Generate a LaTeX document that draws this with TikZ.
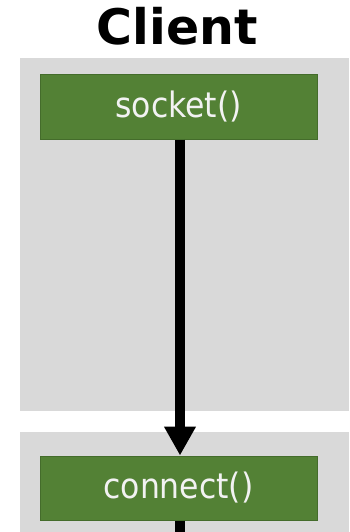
\documentclass[tikz,border=0pt]{standalone}
\usepackage{fontspec}
\setmainfont{DejaVu Sans}
\newfontfamily\condfont{DejaVu Sans Condensed}
\usetikzlibrary{arrows.meta}
\definecolor{panelgray}{HTML}{D9D9D9}
\definecolor{callgreen}{HTML}{538135}
\definecolor{callborder}{HTML}{446C2B}
\definecolor{calltext}{HTML}{F2F2F2}
\tikzset{
  call/.style={draw=callborder, fill=callgreen, line width=1pt,
    minimum width=277pt, minimum height=64pt, inner sep=0pt,
    text=calltext, font=\condfont\fontsize{35}{40}\selectfont},
  flow/.style={line width=10pt, -{Triangle[width=30pt,length=29pt]}}
}
\begin{document}
\begin{tikzpicture}[x=1pt,y=-1pt]
\useasboundingbox (0,0) rectangle (349,532);
% panels
\fill[panelgray] (20,58) rectangle (349,411);
\fill[panelgray] (20,432) rectangle (349,540);
\node[anchor=base, inner sep=0pt, font=\bfseries\fontsize{49}{54}\selectfont] (title) at (177,45) {Client};
\node[call] (socket) at (178.5,107) {socket()};
\node[call] (connect) at (178.5,488) {connect()};
\coordinate (down) at (180,545);
\draw[flow] (socket.south -| 180,0) -- (connect.north -| 180,0);
\draw[line width=10pt] (connect.south -| 180,0) -- (down);
\end{tikzpicture}
\end{document}
